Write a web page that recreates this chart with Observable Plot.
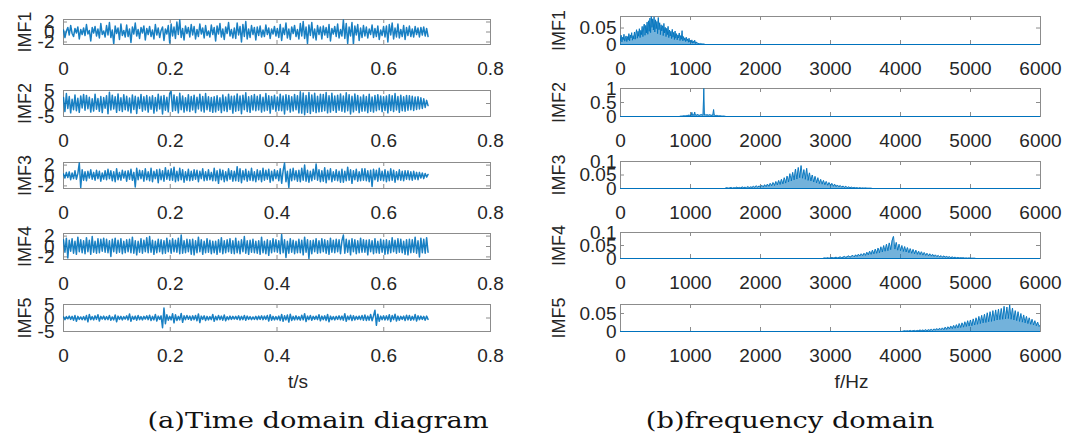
<!DOCTYPE html>
<html><head><meta charset="utf-8">
<script src="https://cdn.jsdelivr.net/npm/d3@7"></script>
<script src="https://cdn.jsdelivr.net/npm/@observablehq/plot@0.6"></script>
<style>
body{margin:0;background:#fff;}
#root{position:relative;width:1070px;height:439px;overflow:hidden;background:#fff;font-family:"Liberation Sans",Arial,sans-serif;}
.panel{position:absolute;}
.cap{position:absolute;font-family:"DejaVu Serif",serif;font-size:22px;color:#111;white-space:nowrap;transform:translate(-50%,-50%) scaleX(1.24);}
</style></head><body><div id="root"></div>
<script>
// ---------- data ----------
const imfNames = ["IMF1","IMF2","IMF3","IMF4","IMF5"];
const timeEnd = 0.683;              // last sample time (s)
const timeXTicks = [0,0.2,0.4,0.6,0.8];
const freqXTicks = [0,1000,2000,3000,4000,5000,6000];
const timeYDomains = [[-2.5,2.5],[-5,5],[-2.5,2.5],[-2.5,2.5],[-5,5]];
const timeYTicks = [[-2,0,2],[-5,0,5],[-2,0,2],[-2,0,2],[-5,0,5]];
const freqYDomains = [[0,0.085],[0,1],[0,0.1],[0,0.1],[0,0.075]];
const freqYTicks = [[0,0.05],[0,0.5,1],[0,0.05,0.1],[0,0.05,0.1],[0,0.05]];

const imf1Time = [
0.4,-1.1,0.2,0.9,-0.6,1.3,-0.3,-0.9,0.7,-0.2,1.0,-1.4,0.5,-0.5,0.8,
-0.7,1.5,-0.4,0.3,-1.8,0.9,-0.2,1.1,-0.8,0.6,-1.2,1.7,-0.5,0.2,-1.0,
1.3,-0.6,1.9,-1.1,0.4,-2.4,1.2,-0.3,0.8,-1.5,1.6,-0.7,0.3,-1.0,1.4,
-0.9,0.6,-2.1,1.0,-0.4,1.8,-0.8,0.5,-1.3,0.9,-0.2,1.2,-1.6,0.7,-0.5,
1.1,-0.9,0.4,-1.4,1.5,-0.6,0.8,-1.1,0.3,1.0,-1.7,0.6,-0.4,1.3,-2.2,
1.6,-0.8,1.0,-1.3,2.0,-0.5,2.4,-1.1,0.7,-1.6,1.2,-0.3,0.9,-1.0,1.5,
-0.6,1.1,-1.4,0.5,-0.9,1.6,-0.4,0.8,-1.2,1.3,-0.7,0.2,-1.0,1.4,-0.5,
0.9,-1.8,1.2,-0.4,1.7,-1.0,0.6,-1.5,1.0,-0.3,1.9,-0.8,0.5,-1.2,0.8,
-1.3,1.8,-0.6,1.1,-2.0,1.5,-0.9,2.1,-1.4,0.6,-1.1,1.3,-0.5,0.9,-1.6,
1.0,-0.7,1.2,-1.0,0.4,-0.9,1.4,-0.5,0.8,-1.3,0.6,-0.4,1.1,-0.8,0.7,
-1.1,1.5,-1.7,0.8,-0.5,1.8,-1.2,0.6,-1.5,1.0,-0.3,1.3,-0.9,0.5,-1.4,
1.7,-0.8,2.1,-1.3,1.0,-2.3,1.4,-0.7,1.9,-1.2,0.6,-1.6,1.3,-0.5,1.0,
-1.4,1.2,-0.6,0.9,-1.1,1.5,-1.8,0.7,-0.4,1.1,-0.9,1.6,-1.2,0.5,-0.8,
2.4,-1.3,1.7,-2.3,1.0,-0.8,1.9,-2.4,1.2,-0.6,1.5,-1.7,0.8,-1.1,1.3,
-0.8,1.0,-1.2,0.6,-0.5,1.4,-1.1,0.7,-0.9,1.2,-1.5,0.4,-0.7,1.1,-1.0,
1.2,-2.0,1.5,-0.6,1.8,-1.4,0.8,-1.0,1.6,-1.2,0.5,-0.9,1.3,-1.5,0.9,
-0.7,1.2,-0.9,0.6,-1.0,1.1,-0.5,0.8,-1.0,0.9,-0.6,1.0,-0.8,0.7,-0.9];
const imf2Time = [
2.3,-3.1,3.8,-1.9,2.7,-3.6,1.6,-2.4,3.3,-2.8,2.0,-3.4,2.9,-1.7,3.5,
-2.6,3.1,-2.0,2.4,-3.3,1.8,-2.9,3.6,-2.2,1.9,-3.0,2.7,-3.5,2.3,-1.8,
3.0,-3.9,4.3,-2.5,3.2,-2.1,2.6,-3.4,3.7,-2.7,2.2,-3.1,3.4,-2.4,2.8,
-2.9,2.1,-3.6,3.3,-2.3,2.8,-3.8,2.4,-1.9,3.5,-3.0,2.6,-2.5,3.1,-3.3,
2.5,-2.2,3.0,-3.7,2.3,-2.9,3.6,-2.1,2.8,-4.0,3.1,-2.6,2.4,-3.2,3.9,
4.6,-3.0,3.3,-2.7,2.6,-3.6,3.9,-2.4,2.9,-3.3,2.2,-2.8,3.4,-3.1,2.7,
-2.5,3.2,-3.5,2.4,-2.1,3.6,-2.9,2.7,-3.3,3.8,-2.4,2.6,-3.0,2.3,-3.4,
2.6,-3.2,3.0,-2.6,2.2,-3.5,3.3,-2.8,2.5,-3.1,3.6,-2.3,2.8,-3.7,2.9,
-3.0,3.7,-2.7,2.9,-3.9,3.2,-2.4,4.1,-3.1,2.6,-3.4,3.0,-2.5,3.5,-2.8,
2.8,-2.5,3.4,-3.3,2.4,-2.9,3.8,-2.6,3.0,-3.7,2.7,-2.2,3.2,-3.0,2.5,
-2.7,3.6,-2.8,2.9,-4.0,3.4,-2.5,3.1,-3.3,2.6,-2.9,3.5,-2.4,3.0,-3.6,
4.5,-3.7,4.0,-4.3,3.1,-3.4,4.2,-3.8,3.3,-3.0,3.9,-3.5,2.8,-3.2,3.6,
-3.1,3.5,-2.8,4.2,-3.6,3.0,-3.3,3.9,-2.7,2.9,-3.4,3.2,-2.6,3.7,-3.0,
2.9,-3.3,4.1,-2.8,3.4,-4.0,2.8,-3.2,3.7,-2.6,3.1,-3.5,2.5,-3.0,3.3,
-2.9,2.7,-3.5,3.6,-3.0,2.5,-3.3,3.1,-2.8,3.4,-2.4,2.9,-3.1,2.6,-2.7,
2.9,-3.6,3.4,-2.7,3.0,-3.1,3.8,-2.5,2.7,-3.4,3.2,-2.8,2.6,-3.0,3.1,
-2.6,3.0,-2.4,2.8,-2.7,2.5,-2.3,2.6,-2.1,2.2,-1.9,1.8,-1.5,1.2,-0.8];
const imf3Time = [
0.3,-0.5,0.6,-0.4,0.7,-0.8,0.5,-0.6,0.9,-0.7,0.4,2.4,-2.3,1.1,-0.9,
0.7,-1.0,0.8,-0.5,1.1,-0.7,0.6,-0.9,1.0,-0.6,0.8,-1.1,0.5,-0.7,0.9,
-0.8,1.2,-0.6,0.9,-1.0,0.7,-1.2,1.3,-0.8,0.6,-0.9,1.0,-0.5,0.8,-1.1,
0.9,-0.7,1.2,-0.9,0.6,-2.2,1.4,-0.8,1.0,-0.6,0.9,-1.1,1.3,-0.8,0.7,
-1.0,1.4,-1.2,0.8,-0.6,1.1,-1.4,1.2,-0.8,0.9,-1.1,1.5,-0.7,1.0,-0.9,
1.3,-0.9,1.6,-1.2,0.8,-1.0,1.4,-0.8,1.1,-1.3,0.7,-0.9,1.2,-1.0,0.8,
-0.9,1.1,-0.7,1.0,-1.2,0.8,-0.6,1.3,-1.0,0.7,-0.9,1.1,-0.8,0.6,-1.0,
1.4,-1.0,0.9,-1.5,1.2,-0.8,1.0,-1.2,0.7,-1.0,1.3,-0.7,0.9,-1.1,0.8,
-1.0,1.7,-1.1,1.3,-1.4,0.9,-0.8,1.2,-1.1,0.8,-0.9,1.4,-1.0,0.7,-1.2,
1.1,-0.8,0.9,-1.2,1.4,-0.9,1.0,-0.7,1.2,-1.3,0.8,-1.0,1.1,-0.6,0.9,
-1.0,1.3,-1.5,0.9,2.4,-1.2,0.8,-2.3,1.2,-1.0,1.4,-0.8,0.9,-1.1,1.0,
-1.2,1.4,-0.9,2.0,-1.1,1.0,-1.3,0.8,-1.0,1.2,-0.7,2.2,-0.9,1.1,-1.2,
0.9,-1.1,1.5,-1.4,1.0,-0.8,1.3,-1.2,0.7,-0.9,1.1,-1.0,0.8,-1.3,1.2,
-1.3,0.8,-1.0,1.6,-0.9,1.1,-1.5,0.9,-0.8,1.2,-1.1,0.7,-1.0,1.3,-0.9,
1.3,-1.0,0.9,-1.2,1.0,-2.1,1.2,-0.8,1.0,-1.1,1.4,-0.9,0.8,-1.0,1.1,
-1.2,0.8,-1.0,1.3,-0.9,1.0,-1.3,0.7,-0.8,1.1,-0.9,0.8,-1.0,0.9,-0.7,
0.9,-0.8,0.7,-0.9,0.8,-0.7,0.6,-0.8,0.6,-0.5,0.5,-0.6,0.4,-0.3,0.2];
const imf4Time = [
1.3,-1.1,1.6,-2.2,1.2,-0.9,1.5,-1.3,1.0,-1.5,1.8,-1.0,1.3,-1.2,1.1,
-1.4,1.7,-1.0,1.2,-1.5,1.9,-1.1,1.0,-1.3,1.5,-1.2,1.4,-0.9,1.6,-1.1,
1.4,-1.2,1.1,-1.9,1.4,-1.0,1.6,-1.3,1.2,-1.1,1.5,-1.4,1.0,-1.2,1.3,
-1.0,1.4,-1.2,1.8,-1.3,1.1,-1.6,1.0,-1.1,1.5,-1.3,1.2,-1.0,1.7,-1.2,
1.9,-1.1,1.2,-1.5,1.0,-1.2,1.4,-1.0,1.3,-1.4,1.1,-1.3,1.6,-1.0,1.2,
-1.3,1.5,-1.0,1.2,-1.1,1.6,-1.4,2.2,-1.3,1.1,-1.2,1.4,-1.0,1.3,-1.5,
1.4,-1.6,1.1,-1.2,1.8,-1.0,1.3,-1.5,1.0,-1.2,1.5,-1.1,1.2,-1.4,1.0,
-1.2,1.0,-1.5,1.3,-1.1,1.7,-1.4,1.1,-1.2,1.3,-1.0,1.5,-1.3,1.1,-1.4,
1.6,-1.2,1.0,-1.4,1.3,-1.0,1.9,-1.3,1.1,-1.5,1.2,-1.1,1.4,-1.2,1.0,
-1.3,1.1,-1.5,1.8,-1.2,1.0,-1.4,1.3,-1.7,1.1,-1.2,1.5,-1.0,1.3,-1.1,
1.1,-1.4,2.3,-1.2,1.3,-2.1,1.0,-1.3,1.5,-1.1,1.2,-1.4,1.0,-1.2,1.4,
-1.2,1.2,-1.6,1.8,-1.1,1.3,-2.3,1.1,-1.4,1.2,-1.0,1.5,-1.3,1.1,-1.2,
1.5,-1.0,1.3,-1.3,1.1,-1.5,1.6,-1.1,1.2,-1.2,1.4,-1.0,1.3,-1.4,1.1,
2.2,-1.3,1.4,-1.1,1.2,-1.6,1.5,-1.0,1.3,-1.4,1.1,-1.2,1.6,-1.1,1.3,
-1.1,1.2,-1.6,1.3,-1.0,1.1,-1.4,1.5,-1.2,1.0,-1.3,1.4,-1.1,1.2,-1.5,
1.3,-1.4,1.1,-1.2,1.7,-1.0,1.2,-1.3,1.5,-1.1,1.4,-1.2,1.0,-1.5,1.3,
-1.6,1.4,-1.2,1.3,-1.1,1.8,-1.3,1.1,-2.0,1.6,-1.2,1.4,-1.3,1.7,-1.1];
const imf5Time = [
0.4,-0.6,0.5,-0.3,0.7,-0.5,0.6,-0.8,0.9,-1.2,0.6,-0.5,0.4,-0.6,0.5,
-0.7,0.9,-1.4,1.3,-0.6,0.5,-0.7,0.8,-0.5,1.2,-1.1,0.6,-0.4,0.7,-0.6,
0.5,-0.6,0.9,-0.8,0.4,-0.7,1.1,-1.4,0.7,-0.5,0.6,-0.7,0.5,-0.4,0.8,
-0.7,1.5,-1.2,0.6,-0.5,0.7,-0.8,0.9,-0.6,0.5,-0.7,0.6,-0.4,0.8,-0.6,
1.0,-0.9,0.6,-0.7,1.3,-1.1,0.7,-0.5,0.8,-3.6,3.7,-2.1,1.2,-0.8,0.6,
-0.7,1.6,-1.8,1.2,-0.9,0.6,-0.7,1.7,-1.6,0.8,-0.6,0.9,-0.5,0.7,-0.8,
0.8,-0.6,0.9,-1.0,1.5,-1.7,0.7,-0.5,0.8,-0.9,0.6,-0.7,0.5,-0.6,1.3,
-1.2,0.6,-0.7,0.9,-0.6,0.7,-0.8,1.1,-1.0,0.5,-0.6,0.7,-0.5,0.6,-0.4,
0.6,-0.5,0.8,-0.7,0.6,-0.6,0.9,-0.8,0.7,-0.5,0.5,-0.6,0.4,-0.5,0.6,
-0.6,0.7,-0.5,0.8,-0.6,0.7,-0.5,0.9,-1.1,1.2,-0.8,0.6,-0.7,0.5,-0.6,
0.7,-0.9,1.3,-1.2,0.8,-0.7,1.1,-1.5,1.4,-0.9,0.6,-0.7,0.8,-0.6,0.5,
-0.8,1.0,-0.7,1.6,-1.3,0.7,-0.6,0.9,-0.8,0.6,-0.5,0.7,-0.6,1.2,-1.0,
0.7,-0.6,0.8,-0.9,1.3,-1.4,0.7,-0.6,0.5,-0.7,0.6,-0.5,0.8,-0.6,0.7,
-0.8,1.6,-1.2,0.7,-0.6,1.0,-0.9,0.8,-0.7,0.6,-0.5,0.7,-0.6,0.9,-0.8,
1.1,-0.9,0.7,-0.8,1.3,-1.0,0.8,2.9,-2.7,1.4,-1.2,0.7,-0.6,0.8,-0.7,
0.8,-0.7,1.2,-1.3,0.9,-0.6,1.4,-1.1,0.7,-0.8,0.6,-0.5,0.7,-0.9,1.0,
-0.7,0.9,-0.8,0.6,-0.7,1.3,-1.1,0.8,-0.6,0.7,-0.5,0.6,-0.8,0.7,-0.5];

// spectra: amplitude samples over a band [start, start+step*(n-1)] Hz; ~0 elsewhere
const freqBandStart = [0, 850, 1500, 2900, 4000];
const freqBandStep  = [10, 10, 20, 20, 20];
const imf1Freq = [
0.012,0.028,0.008,0.022,0.015,0.031,0.010,0.018,0.026,0.009,
0.024,0.014,0.033,0.011,0.029,0.020,0.036,0.013,0.027,0.017,
0.038,0.016,0.032,0.045,0.019,0.040,0.025,0.048,0.021,0.043,
0.030,0.055,0.024,0.050,0.062,0.028,0.058,0.035,0.068,0.031,
0.072,0.040,0.080,0.036,0.085,0.052,0.078,0.044,0.084,0.038,
0.075,0.048,0.070,0.033,0.082,0.045,0.066,0.030,0.060,0.041,
0.057,0.027,0.064,0.035,0.052,0.024,0.049,0.030,0.055,0.021,
0.044,0.026,0.040,0.018,0.046,0.022,0.037,0.015,0.041,0.019,
0.033,0.014,0.029,0.020,0.035,0.012,0.027,0.016,0.042,0.011,
0.024,0.013,0.020,0.009,0.022,0.011,0.017,0.007,0.019,0.008,
0.012,0.006,0.014,0.004,0.010,0.005,0.013,0.003,0.008,0.004,
0.005,0.002,0.004,0.001,0.003,0.001,0.002,0.001,0.002,0.001,0.001];
const imf2Freq = [
0.005,0.012,0.008,0.020,0.010,0.025,0.015,0.030,0.018,0.035,
0.022,0.040,0.028,0.060,0.030,0.045,0.032,0.150,0.040,0.070,
0.035,0.160,0.050,0.060,0.038,0.080,0.045,0.055,0.040,0.065,
0.048,0.070,0.050,0.060,1.000,0.055,0.075,0.045,0.060,0.050,
0.065,0.040,0.070,0.045,0.055,0.035,0.060,0.040,0.250,0.050,
0.045,0.030,0.040,0.025,0.035,0.020,0.030,0.015,0.025,0.012,
0.020,0.010,0.015,0.008,0.010,0.005];
const imf3Freq = [
0.001,0.003,0.001,0.002,0.004,0.001,0.003,0.002,0.005,0.002,
0.004,0.002,0.006,0.003,0.005,0.002,0.007,0.003,0.006,0.004,
0.008,0.004,0.010,0.005,0.009,0.006,0.012,0.005,0.014,0.007,
0.016,0.008,0.019,0.010,0.022,0.011,0.026,0.013,0.030,0.015,
0.034,0.017,0.040,0.020,0.046,0.024,0.055,0.028,0.060,0.032,
0.072,0.035,0.078,0.040,0.085,0.038,0.070,0.034,0.075,0.030,
0.058,0.028,0.050,0.024,0.045,0.021,0.040,0.018,0.034,0.016,
0.030,0.014,0.026,0.012,0.022,0.010,0.019,0.008,0.016,0.007,
0.013,0.006,0.011,0.005,0.009,0.004,0.008,0.003,0.006,0.003,
0.005,0.002,0.004,0.002,0.003,0.001,0.003,0.001,0.002,0.001,
0.002,0.001,0.001,0.001,0.001,0.000];
const imf4Freq = [
0.001,0.002,0.001,0.003,0.001,0.002,0.004,0.002,0.003,0.005,
0.002,0.004,0.006,0.003,0.005,0.008,0.004,0.007,0.010,0.005,
0.009,0.012,0.006,0.014,0.008,0.016,0.010,0.018,0.011,0.020,
0.012,0.024,0.014,0.028,0.016,0.032,0.018,0.036,0.020,0.040,
0.022,0.045,0.025,0.050,0.028,0.055,0.030,0.060,0.034,0.068,
0.085,0.036,0.062,0.032,0.055,0.030,0.050,0.027,0.046,0.025,
0.042,0.022,0.038,0.020,0.035,0.018,0.032,0.016,0.028,0.015,
0.026,0.013,0.023,0.012,0.020,0.010,0.018,0.009,0.016,0.008,
0.014,0.007,0.012,0.006,0.011,0.005,0.010,0.005,0.008,0.004,
0.007,0.003,0.006,0.003,0.005,0.002,0.004,0.002,0.003,0.002,
0.003,0.001,0.002,0.001,0.002,0.001,0.001,0.001,0.001,0.000,0.000];
const imf5Freq = [
0.001,0.000,0.001,0.002,0.001,0.002,0.001,0.003,0.001,0.002,
0.003,0.001,0.003,0.002,0.004,0.002,0.004,0.002,0.005,0.002,
0.005,0.003,0.006,0.003,0.007,0.004,0.008,0.004,0.009,0.005,
0.010,0.005,0.012,0.006,0.013,0.007,0.015,0.008,0.017,0.009,
0.019,0.010,0.022,0.011,0.024,0.012,0.027,0.014,0.030,0.015,
0.032,0.016,0.035,0.018,0.038,0.020,0.042,0.022,0.045,0.024,
0.048,0.025,0.052,0.027,0.055,0.028,0.058,0.030,0.060,0.032,
0.062,0.033,0.064,0.034,0.070,0.035,0.068,0.036,0.074,0.034,
0.065,0.032,0.058,0.030,0.055,0.028,0.050,0.026,0.046,0.024,
0.042,0.022,0.038,0.020,0.034,0.018,0.030,0.016,0.026,0.014,
0.018];

const timeSeries = [imf1Time, imf2Time, imf3Time, imf4Time, imf5Time];
const freqSeries = [imf1Freq, imf2Freq, imf3Freq, imf4Freq, imf5Freq];

// ---------- layout ----------
const blue = "#0072BD";
const axisGray = "#8c8c8c";
const textColor = "#262626";
const timeBoxTop = [19, 90, 162, 233, 304];
const timeBoxH   = [25, 26, 26, 26, 27];
const freqBoxTop = [16, 88, 161, 232, 304];
const freqBoxH   = [28, 28, 27, 26, 27];
const MT = 8, MB = 62;

const root = document.getElementById("root");

function makePanel(o) {
  const W = o.width - o.mL - o.mR;
  const marks = [
    Plot.frame({stroke: axisGray}),
    Plot.tickX(o.xTicks, {x: d => d, insetTop: o.h - 4, stroke: axisGray}),
    Plot.tickX(o.xTicks, {x: d => d, insetBottom: o.h - 4, stroke: axisGray}),
    Plot.tickY(o.yTicks, {y: d => d, insetRight: W - 4, stroke: axisGray}),
    Plot.tickY(o.yTicks, {y: d => d, insetLeft: W - 4, stroke: axisGray}),
  ];
  if (o.baseline) marks.push(Plot.ruleY([0], {stroke: blue, strokeWidth: 1}));
  if (o.fillOp > 0) marks.push(Plot.areaY(o.rows, {x: "x", y: "y", fill: blue, fillOpacity: o.fillOp, clip: true}));
  marks.push(Plot.line(o.rows, {x: "x", y: "y", stroke: blue, strokeWidth: o.sw, strokeOpacity: 0.9, clip: true}));
  marks.push(Plot.text([o.name], {frameAnchor: "left", dx: -o.labelOff, rotate: -90, textAnchor: "middle", lineAnchor: "middle", fontSize: 18, fill: textColor}));
  if (o.xTitle) marks.push(Plot.text([o.xTitle], {frameAnchor: "bottom", dy: 50, dx: 21, textAnchor: "middle", lineAnchor: "middle", fontSize: 19, fill: textColor}));
  const svg = Plot.plot({
    width: o.width, height: MT + o.h + MB,
    marginLeft: o.mL, marginRight: o.mR, marginTop: MT, marginBottom: MB,
    style: {fontSize: "19px", fontFamily: '"Liberation Sans", Arial, sans-serif', color: textColor, background: "transparent", overflow: "visible"},
    x: {domain: o.xDomain, ticks: o.xTicks, tickSize: 0, tickPadding: 17, tickFormat: d => String(d), label: null},
    y: {domain: o.yDomain, ticks: o.yTicks, tickSize: 0, tickPadding: o.yPad, tickFormat: d => String(d), label: null},
    marks
  });
  const wrap = document.createElement("div");
  wrap.className = "panel";
  wrap.style.left = o.left + "px";
  wrap.style.top = (o.top - MT) + "px";
  wrap.appendChild(svg);
  root.appendChild(wrap);
}

imfNames.forEach((name, k) => {
  const tv = timeSeries[k];
  makePanel({
    left: 0, width: 500, mL: 63, mR: 10, top: timeBoxTop[k], h: timeBoxH[k],
    xDomain: [0, 0.8], xTicks: timeXTicks, yDomain: timeYDomains[k], yTicks: timeYTicks[k],
    rows: tv.map((v, i) => ({x: i * timeEnd / (tv.length - 1), y: v})),
    name, labelOff: 38, yPad: 9, fillOp: 0, sw: 1.5, xTitle: k === 4 ? "t/s" : null
  });
  const fv = freqSeries[k];
  makePanel({
    left: 540, width: 520, mL: 80, mR: 20, top: freqBoxTop[k], h: freqBoxH[k],
    xDomain: [0, 6000], xTicks: freqXTicks, yDomain: freqYDomains[k], yTicks: freqYTicks[k],
    rows: fv.map((v, i) => ({x: freqBandStart[k] + i * freqBandStep[k], y: v})),
    name, labelOff: 61, yPad: 4, fillOp: 0.55, sw: 1, baseline: true, xTitle: k === 4 ? "f/Hz" : null
  });
});

const captions = [["(a)Time domain diagram", 318, 420], ["(b)frequency domain", 790, 420]];
captions.forEach(([t, cx, cy]) => {
  const d = document.createElement("div");
  d.className = "cap"; d.textContent = t;
  d.style.left = cx + "px"; d.style.top = cy + "px";
  root.appendChild(d);
});
</script></body></html>
